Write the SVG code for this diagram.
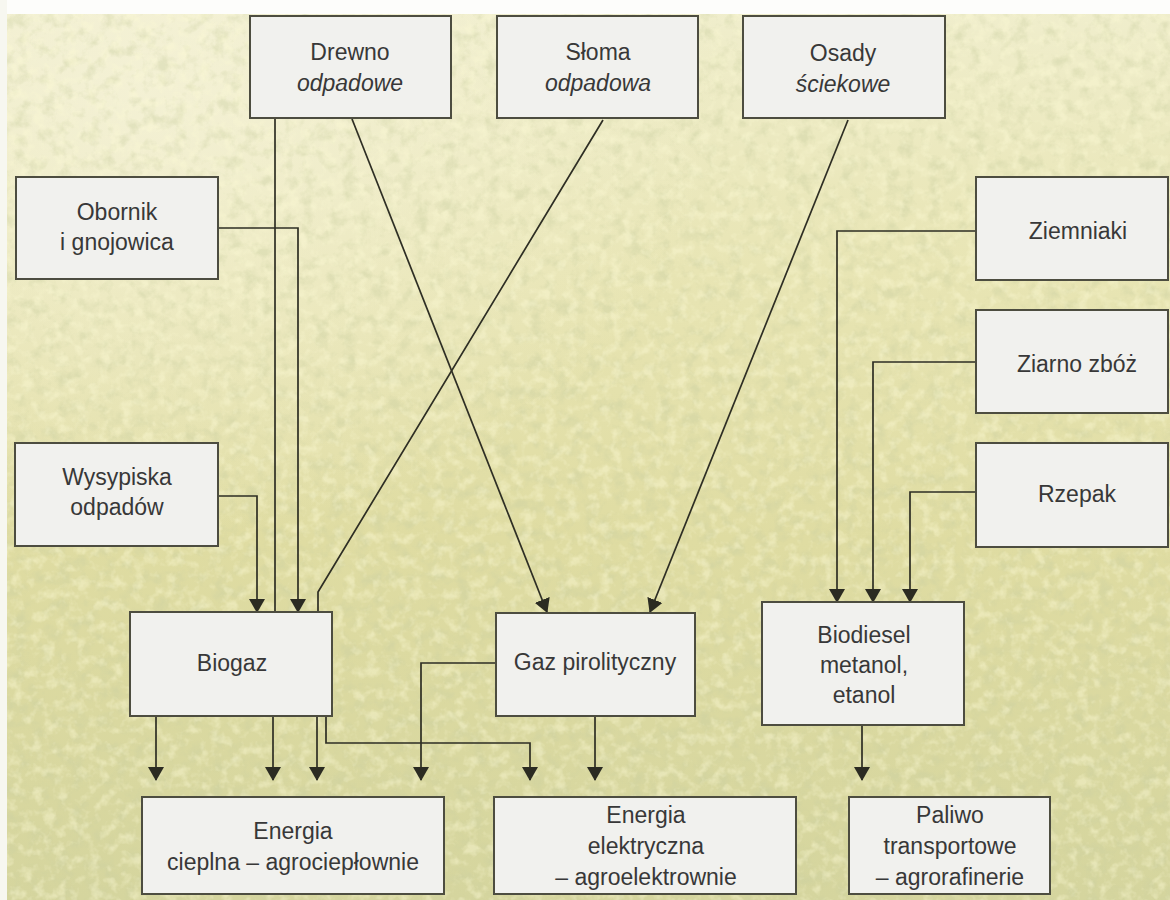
<svg xmlns="http://www.w3.org/2000/svg" width="1170" height="900" viewBox="0 0 1170 900">
  <defs>
    <linearGradient id="field" x1="0" y1="0" x2="0" y2="1">
      <stop offset="0" stop-color="#f0eecd"/>
      <stop offset="0.3" stop-color="#e8e5b4"/>
      <stop offset="0.6" stop-color="#dfdca2"/>
      <stop offset="1" stop-color="#d5d59e"/>
    </linearGradient>
    <radialGradient id="glow" cx="0.12" cy="0.1" r="0.5">
      <stop offset="0" stop-color="#f5f2d8" stop-opacity="0.8"/>
      <stop offset="1" stop-color="#f5f2d8" stop-opacity="0"/>
    </radialGradient>
    <filter id="darkGrain" x="0" y="0" width="100%" height="100%">
      <feTurbulence type="fractalNoise" baseFrequency="0.07" numOctaves="4" seed="11"/>
      <feColorMatrix type="matrix" values="0 0 0 0 0.60  0 0 0 0 0.63  0 0 0 0 0.36  3 0 0 0 -1.4"/>
    </filter>
    <filter id="lightGrain" x="0" y="0" width="100%" height="100%">
      <feTurbulence type="fractalNoise" baseFrequency="0.09" numOctaves="3" seed="4"/>
      <feColorMatrix type="matrix" values="0 0 0 0 0.97  0 0 0 0 0.95  0 0 0 0 0.66  0 3 0 0 -1.4"/>
    </filter>
    <marker id="ah" markerWidth="14" markerHeight="16" refX="13" refY="8" orient="auto" markerUnits="userSpaceOnUse">
      <path d="M0,0 L14,8 L0,16 z" fill="#2b2b22"/>
    </marker>
    <style>
      .box { fill: #f1f1ee; stroke: #4d4d40; stroke-width: 2; }
      .lbl { font-family: "Liberation Sans", Arial, sans-serif; font-size: 23px; fill: #383838; text-anchor: middle; }
      .it { font-style: italic; }
      .wire { fill: none; stroke: #2e2e24; stroke-width: 1.7; }
      .arr { marker-end: url(#ah); }
    </style>
  </defs>

  <!-- background: rapeseed field texture -->
  <g id="background">
    <rect x="0" y="0" width="1170" height="900" fill="url(#field)"/>
    <rect x="0" y="0" width="1170" height="900" fill="url(#glow)"/>
    <rect x="0" y="0" width="1170" height="900" filter="url(#darkGrain)" opacity="0.4"/>
    <rect x="0" y="0" width="1170" height="900" filter="url(#lightGrain)" opacity="0.45"/>
    <rect x="0" y="0" width="1170" height="14" fill="#fdfdfb"/>
    <rect x="0" y="0" width="7" height="900" fill="#f7f7f0"/>
  </g>

  <!-- connectors -->
  <g id="connectors">
    <path class="wire" d="M275,118 V612"/>
    <path class="wire arr" d="M352,119 L547,612"/>
    <path class="wire arr" d="M218,228 H298 V612"/>
    <path class="wire arr" d="M218,496 H257 V612"/>
    <path class="wire" d="M603,120 L318,592 V612"/>
    <path class="wire arr" d="M848,120 L650,612"/>
    <path class="wire arr" d="M976,231 H837 V602"/>
    <path class="wire arr" d="M976,362 H873 V602"/>
    <path class="wire arr" d="M976,492 H910 V602"/>
    <path class="wire arr" d="M156,716 V780"/>
    <path class="wire arr" d="M273,716 V780"/>
    <path class="wire arr" d="M317,716 V780"/>
    <path class="wire arr" d="M326,716 V743 H530 V780"/>
    <path class="wire arr" d="M496,663 H421 V780"/>
    <path class="wire arr" d="M595,716 V780"/>
    <path class="wire arr" d="M862,725 V780"/>
  </g>

  <g id="drewno">
    <rect class="box" x="250" y="16" width="201" height="102"/>
    <text class="lbl" x="350" y="60">Drewno</text>
    <text class="lbl it" x="350" y="91">odpadowe</text>
  </g>
  <g id="sloma">
    <rect class="box" x="497" y="16" width="201" height="102"/>
    <text class="lbl" x="598" y="60">Słoma</text>
    <text class="lbl it" x="598" y="91">odpadowa</text>
  </g>
  <g id="osady">
    <rect class="box" x="743" y="16" width="202" height="102"/>
    <text class="lbl" x="843" y="61">Osady</text>
    <text class="lbl it" x="843" y="92">ściekowe</text>
  </g>
  <g id="obornik">
    <rect class="box" x="16" y="177" width="202" height="102"/>
    <text class="lbl" x="117" y="220">Obornik</text>
    <text class="lbl" x="117" y="250">i gnojowica</text>
  </g>
  <g id="wysypiska">
    <rect class="box" x="15" y="443" width="203" height="103"/>
    <text class="lbl" x="117" y="485">Wysypiska</text>
    <text class="lbl" x="117" y="515">odpadów</text>
  </g>
  <g id="ziemniaki">
    <rect class="box" x="976" y="177" width="192" height="103"/>
    <text class="lbl" x="1078" y="239">Ziemniaki</text>
  </g>
  <g id="ziarno">
    <rect class="box" x="976" y="310" width="192" height="103"/>
    <text class="lbl" x="1077" y="372">Ziarno zbóż</text>
  </g>
  <g id="rzepak">
    <rect class="box" x="976" y="443" width="192" height="104"/>
    <text class="lbl" x="1077" y="502">Rzepak</text>
  </g>
  <g id="biogaz">
    <rect class="box" x="130" y="612" width="202" height="104"/>
    <text class="lbl" x="232" y="671">Biogaz</text>
  </g>
  <g id="gaz">
    <rect class="box" x="496" y="613" width="199" height="103"/>
    <text class="lbl" x="595" y="670">Gaz pirolityczny</text>
  </g>
  <g id="biodiesel">
    <rect class="box" x="762" y="602" width="202" height="123"/>
    <text class="lbl" x="864" y="643">Biodiesel</text>
    <text class="lbl" x="864" y="673">metanol,</text>
    <text class="lbl" x="864" y="703">etanol</text>
  </g>
  <g id="energia-cieplna">
    <rect class="box" x="142" y="797" width="302" height="97"/>
    <text class="lbl" x="293" y="839">Energia</text>
    <text class="lbl" x="293" y="870">cieplna – agrociepłownie</text>
  </g>
  <g id="energia-elektryczna">
    <rect class="box" x="494" y="797" width="302" height="97"/>
    <text class="lbl" x="646" y="823">Energia</text>
    <text class="lbl" x="646" y="854">elektryczna</text>
    <text class="lbl" x="646" y="885">– agroelektrownie</text>
  </g>
  <g id="paliwo">
    <rect class="box" x="849" y="797" width="201" height="97"/>
    <text class="lbl" x="950" y="823">Paliwo</text>
    <text class="lbl" x="950" y="854">transportowe</text>
    <text class="lbl" x="950" y="885">– agrorafinerie</text>
  </g>
</svg>
